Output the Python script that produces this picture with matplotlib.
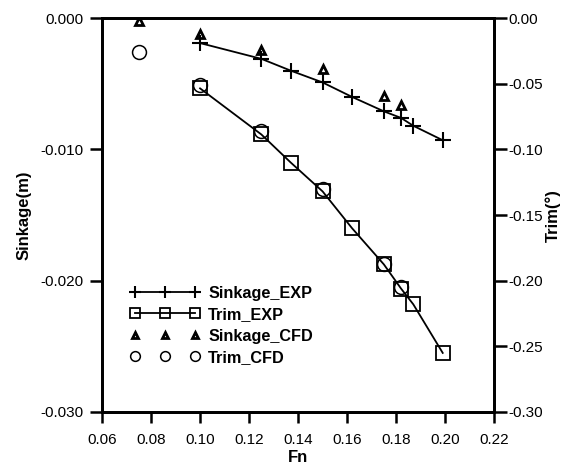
import matplotlib
matplotlib.use("Agg")
import matplotlib.pyplot as plt

plt.rcParams['font.family'] = ['Liberation Sans', 'DejaVu Sans']

# experimental data
fn_exp = [0.100, 0.125, 0.137, 0.150, 0.162, 0.175, 0.182, 0.187, 0.199]
sink_exp = [-0.0019, -0.0031, -0.0040, -0.0049, -0.0060, -0.0071, -0.0076, -0.0082, -0.0093]
trim_exp = [-0.0535, -0.0886, -0.110, -0.132, -0.160, -0.1876, -0.206, -0.218, -0.255]

# CFD data
fn_cfd = [0.075, 0.100, 0.125, 0.150, 0.175, 0.182]
sink_cfd = [-0.0002, -0.0012, -0.0024, -0.0039, -0.0059, -0.0066]
trim_cfd = [-0.026, -0.051, -0.086, -0.130, -0.187, -0.205]

fig = plt.figure(figsize=(5.7, 4.65), dpi=100)
ax = fig.add_axes([0.179, 0.114, 0.688, 0.847])
ax2 = ax.twinx()

h1, = ax.plot(fn_exp, sink_exp, 'k-', marker='+', markersize=12, markeredgewidth=1.5,
              linewidth=1.3, label='Sinkage_EXP')
h2, = ax2.plot(fn_exp, trim_exp, 'k-', marker='s', markersize=9.5, markerfacecolor='none',
               markeredgewidth=1.3, linewidth=1.3, label='Trim_EXP')
h3, = ax.plot(fn_cfd, sink_cfd, linestyle='none', marker='^', markersize=6,
              markerfacecolor='none', markeredgecolor='k', markeredgewidth=2.0,
              label='Sinkage_CFD')
h4, = ax2.plot(fn_cfd, trim_cfd, linestyle='none', marker='o', markersize=10,
               markerfacecolor='none', markeredgecolor='k', markeredgewidth=1.1,
               label='Trim_CFD')

ax.set_xlim(0.06, 0.22)
ax.set_ylim(-0.030, 0.000)
ax2.set_ylim(-0.30, 0.00)
ax.set_xticks([0.06, 0.08, 0.10, 0.12, 0.14, 0.16, 0.18, 0.20, 0.22])
ax.set_xticklabels(['0.06', '0.08', '0.10', '0.12', '0.14', '0.16', '0.18', '0.20', '0.22'])
ax.set_yticks([-0.030, -0.020, -0.010, 0.000])
ax.set_yticklabels(['-0.030', '-0.020', '-0.010', '0.000'])
ax2.set_yticks([-0.30, -0.25, -0.20, -0.15, -0.10, -0.05, 0.00])
ax2.set_yticklabels(['-0.30', '-0.25', '-0.20', '-0.15', '-0.10', '-0.05', '0.00'])

for a in (ax, ax2):
    for s in a.spines.values():
        s.set_linewidth(2.0)
    a.tick_params(direction='out', length=9, width=1.8, labelsize=11)
ax.tick_params(axis='x', length=8, pad=7)
ax.tick_params(axis='y', pad=4)
ax2.tick_params(axis='y', pad=1)

ax.set_xlabel('Fn', fontsize=12, fontweight='bold', labelpad=2)
ax.set_ylabel('Sinkage(m)', fontsize=12, fontweight='bold', labelpad=7)
ax2.set_ylabel('Trim(°)', fontsize=12, fontweight='bold', labelpad=2)

leg = ax.legend(handles=[h1, h2, h3, h4], loc='upper left', bbox_to_anchor=(0.043, 0.35),
                frameon=False, numpoints=3, markerscale=0.7, handlelength=4.3,
                handletextpad=0.5, labelspacing=0.4, borderaxespad=0.3,
                prop={'weight': 'bold', 'size': 11.7})

fig.savefig('out.png', dpi=100)
